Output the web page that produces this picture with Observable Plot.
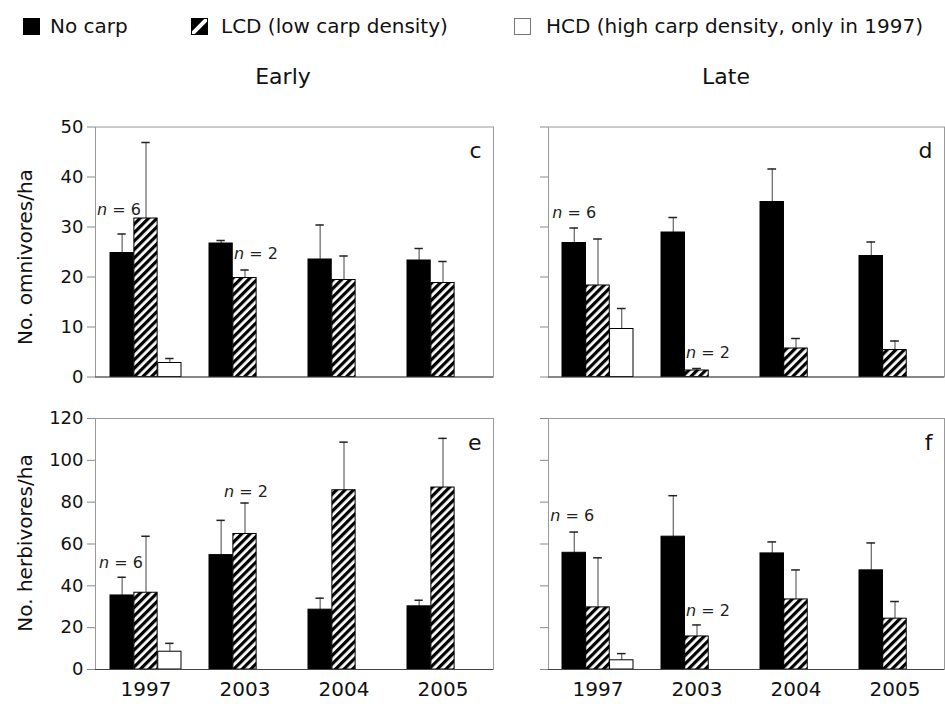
<!DOCTYPE html>
<html>
<head>
<meta charset="utf-8">
<script src="https://cdn.jsdelivr.net/npm/d3@7"></script>
<script src="https://cdn.jsdelivr.net/npm/@observablehq/plot@0.6"></script>
<style>
html, body { margin: 0; padding: 0; background: #fff; }
#chart { position: relative; width: 945px; height: 704px; overflow: hidden; font-family: "DejaVu Sans", sans-serif; color: #111; }
.abs { position: absolute; white-space: nowrap; line-height: 1; }
.legtext { font-size: 20px; top: 16px; }
.coltitle { font-size: 22px; top: 66px; transform: translateX(-50%); }
.rowlabel { font-size: 20px; transform: translate(-50%, -50%) rotate(-90deg); }
.panel { position: absolute; }
</style>
</head>
<body>
<svg width="0" height="0" style="position:absolute">
  <defs>
    <pattern id="hatch" patternUnits="userSpaceOnUse" width="6" height="6" patternTransform="rotate(45)">
      <rect width="6" height="6" fill="#fff"></rect>
      <rect width="3.2" height="6" fill="#000"></rect>
    </pattern>
  </defs>
</svg>
<div id="chart"></div>
<script>
// ---------- data ----------
const years = ["1997", "2003", "2004", "2005"];
const groups = ["No carp", "LCD", "HCD"];
const legendLabels = ["No carp", "LCD (low carp density)", "HCD (high carp density, only in 1997)"];
const columnTitles = ["Early", "Late"];
const rowLabels = ["No. omnivores/ha", "No. herbivores/ha"];
const panelLetters = ["c", "d", "e", "f"];
const omniTicks = [0, 10, 20, 30, 40, 50];
const herbTicks = [0, 20, 40, 60, 80, 100, 120];

// Omnivores, early (panel c): means and upper error (SE)
const omniEarlyNoCarp   = [24.8, 26.7, 23.5, 23.3];
const omniEarlyNoCarpSE = [3.8, 0.6, 6.9, 2.4];
const omniEarlyLCD      = [31.7, 19.8, 19.4, 18.8];
const omniEarlyLCDSE    = [15.2, 1.6, 4.8, 4.3];
const omniEarlyHCD      = [2.8, null, null, null];
const omniEarlyHCDSE    = [0.9, null, null, null];

// Omnivores, late (panel d)
const omniLateNoCarp    = [26.8, 28.9, 35.0, 24.2];
const omniLateNoCarpSE  = [3.0, 3.0, 6.6, 2.8];
const omniLateLCD       = [18.3, 1.3, 5.7, 5.4];
const omniLateLCDSE     = [9.3, 0.4, 2.0, 1.8];
const omniLateHCD       = [9.6, null, null, null];
const omniLateHCDSE     = [4.1, null, null, null];

// Herbivores, early (panel e)
const herbEarlyNoCarp   = [35.4, 54.7, 28.6, 30.2];
const herbEarlyNoCarpSE = [8.7, 16.6, 5.5, 2.9];
const herbEarlyLCD      = [36.7, 64.8, 85.7, 87.0];
const herbEarlyLCDSE    = [27.0, 14.8, 23.0, 23.5];
const herbEarlyHCD      = [8.5, null, null, null];
const herbEarlyHCDSE    = [4.0, null, null, null];

// Herbivores, late (panel f)
const herbLateNoCarp    = [55.8, 63.5, 55.5, 47.4];
const herbLateNoCarpSE  = [9.9, 19.6, 5.5, 13.1];
const herbLateLCD       = [29.7, 15.8, 33.5, 24.3];
const herbLateLCDSE     = [23.7, 5.5, 14.1, 8.2];
const herbLateHCD       = [4.4, null, null, null];
const herbLateHCDSE     = [3.2, null, null, null];

// sample-size notes: [year, group index, y value, n]
const notesC = [["1997", 0, 32.5, 6], ["2003", 1, 23.7, 2]];
const notesD = [["1997", 0, 31.9, 6], ["2003", 1, 3.9, 2]];
const notesE = [["1997", 0, 48.3, 6], ["2003", 1, 82.4, 2]];
const notesF = [["1997", 0, 71.2, 6], ["2003", 1, 25.8, 2]];

// ---------- drawing ----------
const chart = document.getElementById("chart");
const fills = ["#000", "url(#hatch)", "#fff"];

function panel({letter, means, ses, yMax, yTicks, showYLabels, showXLabels, width, height, ml, mr, mt, mb, notes, noteShift}) {
  const pi = 0.28, po = 0.14;
  const inner = width - ml - mr;
  const step = inner / (years.length - pi + 2 * po);
  const bw = step * (1 - pi);
  const slot = bw / 3;
  const cap = 9;
  const marks = [Plot.frame({stroke: "#999"})];
  groups.forEach((g, gi) => {
    const data = years.map((year, i) => ({year, value: means[gi][i], se: ses[gi][i]})).filter(d => d.value != null);
    marks.push(Plot.ruleX(data, {x: "year", y1: "value", y2: d => d.value + d.se, dx: (gi - 1) * slot, stroke: "#444", strokeWidth: 1}));
    marks.push(Plot.tickY(data, {x: "year", y: d => d.value + d.se, insetLeft: gi * slot + (slot - cap) / 2, insetRight: (2 - gi) * slot + (slot - cap) / 2, stroke: "#222", strokeWidth: 1.5}));
    marks.push(Plot.barY(data, {x: "year", y: "value", fill: fills[gi], stroke: "#000", strokeWidth: 1, insetLeft: gi * slot, insetRight: (2 - gi) * slot}));
  });
  marks.push(Plot.ruleY([0], {stroke: "#444"}));
  marks.push(Plot.axisY({ticks: yTicks, tickSize: 8, tickPadding: 4, fontSize: 18, label: null, stroke: "#888", fill: "#111",
    tickFormat: showYLabels ? (d => String(d)) : (() => "")}));
  if (showXLabels) marks.push(Plot.axisX({tickSize: 0, tickPadding: 12, fontSize: 20, label: null, fill: "#111"}));
  notes.forEach(([year, gi, yv, n], k) => {
    const base = (gi - 1) * slot + noteShift[k];
    const d = [{year, y: yv}];
    marks.push(Plot.text(d, {x: "year", y: "y", text: () => "n", fontStyle: "italic", textAnchor: "end", lineAnchor: "bottom", dx: base - 11.9, fontSize: 16, fill: "#222"}));
    marks.push(Plot.text(d, {x: "year", y: "y", text: () => "= " + n, textAnchor: "start", lineAnchor: "bottom", dx: base - 6.8, fontSize: 16, fill: "#222"}));
  });
  marks.push(Plot.text([letter], {frameAnchor: "top-right", text: d => d, textAnchor: "end", lineAnchor: "bottom", dx: -12, dy: 31, fontSize: 22, fill: "#111"}));
  return Plot.plot({
    width, height,
    marginLeft: ml, marginRight: mr, marginTop: mt, marginBottom: mb,
    x: {type: "band", domain: years, paddingInner: pi, paddingOuter: po, axis: showXLabels ? undefined : null},
    y: {domain: [0, yMax]},
    style: {background: "transparent", fontFamily: "DejaVu Sans, sans-serif", overflow: "visible", maxWidth: "none"},
    marks
  });
}

function place(node, left, top) {
  const wrap = document.createElement("div");
  wrap.className = "panel";
  wrap.style.left = left + "px";
  wrap.style.top = top + "px";
  wrap.appendChild(node);
  chart.appendChild(wrap);
}

place(panel({letter: panelLetters[0],
  means: [omniEarlyNoCarp, omniEarlyLCD, omniEarlyHCD], ses: [omniEarlyNoCarpSE, omniEarlyLCDSE, omniEarlyHCDSE],
  yMax: 50, yTicks: omniTicks, showYLabels: true, showXLabels: false,
  width: 497, height: 280, ml: 95, mr: 4, mt: 16.5, mb: 13.5, notes: notesC, noteShift: [-3, 11]}), 0, 110);

place(panel({letter: panelLetters[1],
  means: [omniLateNoCarp, omniLateLCD, omniLateHCD], ses: [omniLateNoCarpSE, omniLateLCDSE, omniLateHCDSE],
  yMax: 50, yTicks: omniTicks, showYLabels: false, showXLabels: false,
  width: 448, height: 280, ml: 51, mr: 1, mt: 16.5, mb: 13.5, notes: notesD, noteShift: [0, 11]}), 497, 110);

place(panel({letter: panelLetters[2],
  means: [herbEarlyNoCarp, herbEarlyLCD, herbEarlyHCD], ses: [herbEarlyNoCarpSE, herbEarlyLCDSE, herbEarlyHCDSE],
  yMax: 120, yTicks: herbTicks, showYLabels: true, showXLabels: true,
  width: 497, height: 304, ml: 95, mr: 4, mt: 18, mb: 35, notes: notesE, noteShift: [-1, 1]}), 0, 400);

place(panel({letter: panelLetters[3],
  means: [herbLateNoCarp, herbLateLCD, herbLateHCD], ses: [herbLateNoCarpSE, herbLateLCDSE, herbLateHCDSE],
  yMax: 120, yTicks: herbTicks, showYLabels: false, showXLabels: true,
  width: 448, height: 304, ml: 51, mr: 1, mt: 18, mb: 35, notes: notesF, noteShift: [-2, 11]}), 497, 400);

// ---------- legend, titles, row labels ----------
function addText(cls, text, left, top) {
  const el = document.createElement("div");
  el.className = "abs " + cls;
  el.textContent = text;
  el.style.left = left + "px";
  if (top != null) el.style.top = top + "px";
  chart.appendChild(el);
  return el;
}
function addSwatch(left, inner) {
  const ns = "http://www.w3.org/2000/svg";
  const s = document.createElementNS(ns, "svg");
  s.setAttribute("width", 17); s.setAttribute("height", 17);
  s.style.position = "absolute"; s.style.left = left + "px"; s.style.top = "18px";
  s.innerHTML = inner;
  chart.appendChild(s);
}
addSwatch(23, '<rect x="0" y="0" width="17" height="17" fill="#000"></rect>');
addSwatch(191, '<rect x="0.5" y="0.5" width="16" height="16" fill="#000" stroke="#000"></rect><line x1="1" y1="16" x2="16" y2="1" stroke="#fff" stroke-width="4"></line><rect x="0.5" y="0.5" width="16" height="16" fill="none" stroke="#000"></rect>');
addSwatch(514, '<rect x="0.5" y="0.5" width="16" height="16" fill="#fff" stroke="#777"></rect>');
addText("legtext", legendLabels[0], 50);
addText("legtext", legendLabels[1], 221);
addText("legtext", legendLabels[2], 546);

addText("coltitle", columnTitles[0], 283);
addText("coltitle", columnTitles[1], 726);

const r1 = addText("rowlabel", rowLabels[0], 25); r1.style.top = "257px";
const r2 = addText("rowlabel", rowLabels[1], 25); r2.style.top = "543px";
</script>
</body>
</html>
